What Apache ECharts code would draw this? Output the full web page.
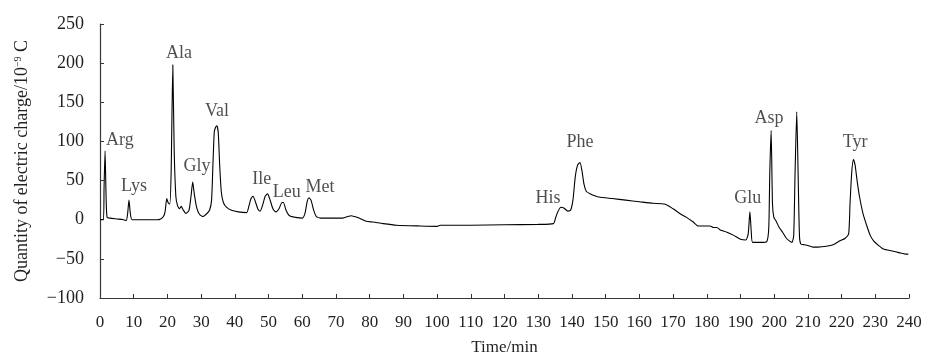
<!DOCTYPE html>
<html>
<head>
<meta charset="utf-8">
<script src="https://cdn.jsdelivr.net/npm/echarts@6/dist/echarts.min.js"></script>
<style>
  html, body { margin: 0; padding: 0; background: #fff; }
  #chart { width: 926px; height: 358px; }
</style>
</head>
<body>
<div id="chart"></div>
<script>
// 色谱曲线，时间 (min) 与电量 (10^-9 C)
const times = [
  0, 1.0, 1.2, 1.5, 1.8, 2.1, 3, 5, 7, 7.8, 8.2, 8.6, 9.0, 9.5, 12, 17, 18, 18.8, 19.3, 19.8,
  20.2, 20.7, 21.1, 21.6, 22.0, 22.5, 23.0, 23.6, 24.1, 24.6, 25.5, 26.4, 27.0, 27.5, 28.0, 28.7,
  29.5, 30.5, 31.5, 32.5, 33.1, 33.5, 33.9, 34.3, 34.7, 35.1, 35.5, 36.0, 36.6, 37.5, 39, 41,
  43.5, 44.2, 44.8, 45.4, 46.1, 46.9, 47.5, 48.2, 49, 49.7, 50.4, 51.2, 51.6, 52.2, 53.1, 54.0,
  54.4, 55.2, 56.2, 58, 60, 60.8, 61.5, 62, 62.6, 63.4, 64.2, 65.5, 72, 73.5, 74.5, 75.5, 77,
  79, 81, 84, 88, 95, 100, 101, 110, 120, 130, 134.5, 135.2, 135.8, 136.7, 137.6, 138.8, 139.6,
  140.3, 141.0, 141.7, 142.4, 143.0, 143.6, 144.3, 145.5, 148, 152, 156, 160, 164, 167.5, 170,
  172, 174, 176, 177.5, 179, 181, 182, 183, 184, 186, 188, 190, 191.6, 192.3, 192.8, 193.2,
  193.6, 196, 197.8, 198.4, 198.7, 199.1, 199.5, 199.9, 200.6, 201.5, 202.5, 203.5, 204.5,
  205.3, 205.8, 206.2, 206.7, 207.1, 207.5, 207.9, 209, 210, 211.5, 213, 215.5, 217.5, 219.5,
  221, 222.1, 222.5, 223.0, 223.5, 224.0, 224.6, 225.3, 226.4, 227.5, 228.5, 229.5, 231, 232.4,
  235, 237, 239, 239.8
]
const charges = [
  0, 0, 40, 88, 30, 3, 2, 1, 0, -1, 8, 25, 8, 0, 0, 0, 1, 4, 10, 27,
  22, 20, 60, 198, 90, 30, 18, 14, 17, 13, 8, 12, 30, 48, 32, 15,
  7, 4, 7, 12, 25, 70, 112, 118, 120, 110, 70, 35, 22, 16, 12, 10,
  9, 18, 27, 30, 23, 13, 11, 18, 30, 33, 26, 15, 12, 10, 14, 22,
  22, 12, 5, 3, 2, 8, 24, 28, 25, 12, 4, 2, 2, 4, 5, 4, 2,
  -2, -3, -5, -7, -8, -8.5, -7, -7, -6.5, -6, -5, 3, 10, 16, 15, 11, 12,
  25, 55, 70, 73, 62, 45, 36, 33, 29, 27, 25, 23, 21, 20, 14,
  8, 3, -3, -8, -8, -8, -10, -10, -13, -16, -20, -25, -26, -18, 10, -15,
  -29, -29, -28, -10, 60, 114, 20, 3, -2, -10, -16, -23, -27,
  -29, -20, 60, 138, 60, -20, -31, -32, -33, -35, -35, -34, -32, -27,
  -24, -18, 20, 60, 77, 70, 50, 30, 7, -8, -20, -27, -33, -37.5,
  -40, -42, -44, -44
]

// 峰的名称和标注位置
const peakNames = ['Arg', 'Lys', 'Ala', 'Gly', 'Val', 'Ile', 'Leu', 'Met', 'His', 'Phe', 'Glu', 'Asp', 'Tyr']
const peakLabelTimes = [5.9, 10.1, 23.4, 28.8, 34.7, 48, 55.4, 65.3, 132.9, 142.4, 192.2, 198.5, 224]
const peakLabelCharges = [101, 43, 213, 68, 139, 52, 35, 41, 27, 99, 27, 129, 99]

const chart = echarts.init(document.getElementById('chart'))

const serif = '"Liberation Serif", "Times New Roman", serif'
const axisColor = '#3a3633'
const textColor = '#231f20'

const option = {
  animation: false,
  backgroundColor: '#fff',
  grid: { left: 100, right: 17, top: 24, bottom: 60, containLabel: false, outerBoundsMode: 'none' },
  xAxis: {
    type: 'value',
    min: 0,
    max: 240,
    interval: 10,
    name: 'Time/min',
    nameLocation: 'middle',
    nameGap: 41,
    nameTextStyle: { fontFamily: serif, fontSize: 17, color: textColor },
    axisLine: { onZero: false, lineStyle: { color: axisColor, width: 1.2 } },
    axisTick: { inside: true, length: 4, lineStyle: { color: axisColor } },
    axisLabel: { fontFamily: serif, fontSize: 17, color: textColor, margin: 16 },
    splitLine: { show: false },
  },
  yAxis: {
    type: 'value',
    min: -100,
    max: 250,
    interval: 50,
    name: 'Quantity of electric charge/10{sup|−9} C',
    nameLocation: 'middle',
    nameGap: 68,
    nameTextStyle: {
      fontFamily: serif,
      fontSize: 18,
      color: textColor,
      rich: {
        sup: { fontFamily: serif, fontSize: 10, color: textColor, verticalAlign: 'top', padding: [0, 0, 9, 0] },
      },
    },
    axisLine: { show: true, onZero: false, lineStyle: { color: axisColor, width: 1.2 } },
    axisTick: { show: true, inside: true, length: 4, lineStyle: { color: axisColor } },
    axisLabel: {
      fontFamily: serif,
      fontSize: 18,
      color: textColor,
      margin: 16,
      formatter: (v) => String(v).replace('-', '−'),
    },
    splitLine: { show: false },
  },
  series: [
    {
      type: 'line',
      data: times.map((t, i) => [t, charges[i]]),
      symbol: 'none',
      smooth: 0.2,
      lineStyle: { color: '#000', width: 1.1 },
    },
    {
      type: 'scatter',
      data: peakLabelTimes.map((t, i) => [t, peakLabelCharges[i], peakNames[i]]),
      symbolSize: 0,
      silent: true,
      label: {
        show: true,
        position: 'inside',
        formatter: (p) => p.data[2],
        fontFamily: serif,
        fontSize: 18,
        color: textColor,
      },
    },
  ],
}

chart.setOption(option)
</script>
</body>
</html>
